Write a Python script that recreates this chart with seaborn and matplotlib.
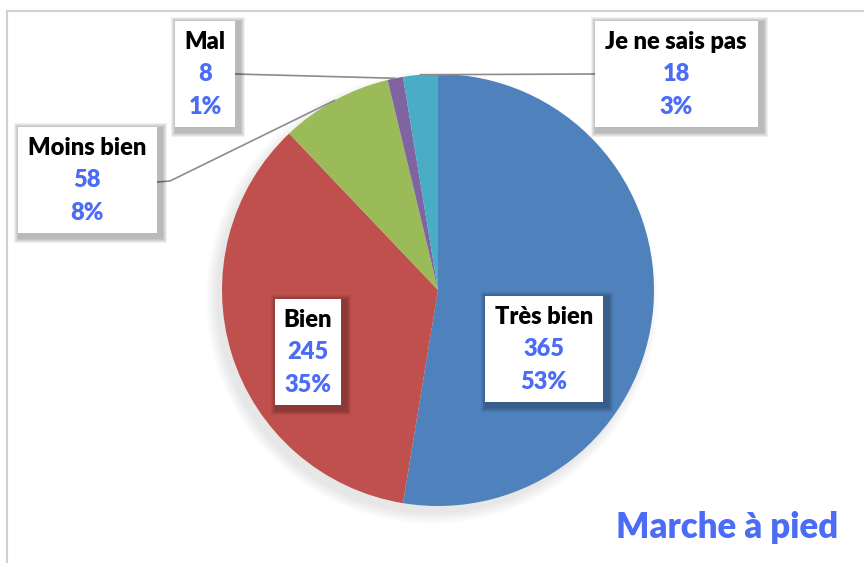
import numpy as np
import seaborn as sns
import matplotlib.pyplot as plt
from matplotlib.patches import Rectangle

# data
categories = ["Très bien", "Bien", "Moins bien", "Mal", "Je ne sais pas"]
counts = [365, 245, 58, 8, 18]
slice_colors = ["#4F81BD", "#C0504D", "#9BBB59", "#8064A2", "#4BACC6"]
title = "Marche à pied"

sns.set_theme(style="white")
plt.rcParams["font.family"] = ["Lato", "DejaVu Sans"]

W, H = 864, 563
fig = plt.figure(figsize=(W / 100, H / 100), dpi=100)
ax = fig.add_axes([0, 0, 1, 1])

# pie geometry in pixel units (y measured upward)
cx, cy, r = 438, 273, 216
total = sum(counts)
pcts = [round(100 * c / total) for c in counts]

# soft shadow behind the pie
for k in range(8):
    ax.add_patch(plt.Circle((cx - 6, cy - 8), r + 10 - k * 1.5, color="#000000",
                            alpha=0.012, zorder=0, lw=0))

ax.pie(counts, colors=slice_colors, startangle=90, counterclock=False,
       center=(cx, cy), radius=r, frame=True,
       wedgeprops=dict(linewidth=0))
ax.set_xlim(0, W)
ax.set_ylim(0, H)
ax.set_aspect("equal")
ax.axis("off")

# label boxes: center (px from top), box width
box_layout = {
    "Très bien": (544, 349, 118),
    "Bien": (308, 352, 66),
    "Moins bien": (87, 180, 139),
    "Mal": (205, 74, 60),
    "Je ne sais pas": (676, 74, 163),
}
box_h = 106
blue = "#4B6CF5"
fs = 17

for name, cnt, pct in zip(categories, counts, pcts):
    bx, by, bw = box_layout[name]
    y = H - by
    # shadow
    for k in range(5):
        ax.add_patch(Rectangle((bx - bw / 2 - 4 + k, y - box_h / 2 - 10 + k),
                               bw + 14 - 2 * k, box_h + 14 - 2 * k,
                               color="#000000", alpha=0.06, lw=0, zorder=3))
    ax.add_patch(Rectangle((bx - bw / 2, y - box_h / 2), bw, box_h,
                           facecolor="white", edgecolor="none", zorder=4))
    ax.text(bx, y + 32, name, ha="center", va="center", fontsize=fs,
            fontweight="heavy", color="black", zorder=5)
    ax.text(bx, y, str(cnt), ha="center", va="center", fontsize=fs,
            fontweight="heavy", color=blue, zorder=5)
    ax.text(bx, y - 33, f"{pct}%", ha="center", va="center", fontsize=fs,
            fontweight="heavy", color=blue, zorder=5)

# leader lines for the small slices
cum = np.cumsum([0] + counts)
def edge_point(i):
    mid = (cum[i] + cum[i + 1]) / 2 / total
    ang = np.deg2rad(90 - 360 * mid)
    return cx + r * np.cos(ang), cy + r * np.sin(ang)

lc = "#8C8C8C"
px, py = edge_point(2)
ax.plot([157, 170, px], [H - 182, H - 181, py], color=lc, lw=1.2, zorder=2)
px, py = edge_point(3)
ax.plot([235, px], [H - 74, py], color=lc, lw=1.2, zorder=2)
px, py = edge_point(4)
ax.plot([px, 595], [py, H - 74], color=lc, lw=1.2, zorder=2)

ax.text(727, H - 527, title, ha="center", va="center", fontsize=25,
        fontweight="heavy", color=blue)

# chart frame (runs off the right and bottom edges)
fig.patches.append(Rectangle((7 / W, -0.1), 1.2, 1.1 - 11 / H, transform=fig.transFigure,
                             fill=False, edgecolor="#D0D0D0", lw=1.5))

fig.savefig("out.png", dpi=100, facecolor="white")
